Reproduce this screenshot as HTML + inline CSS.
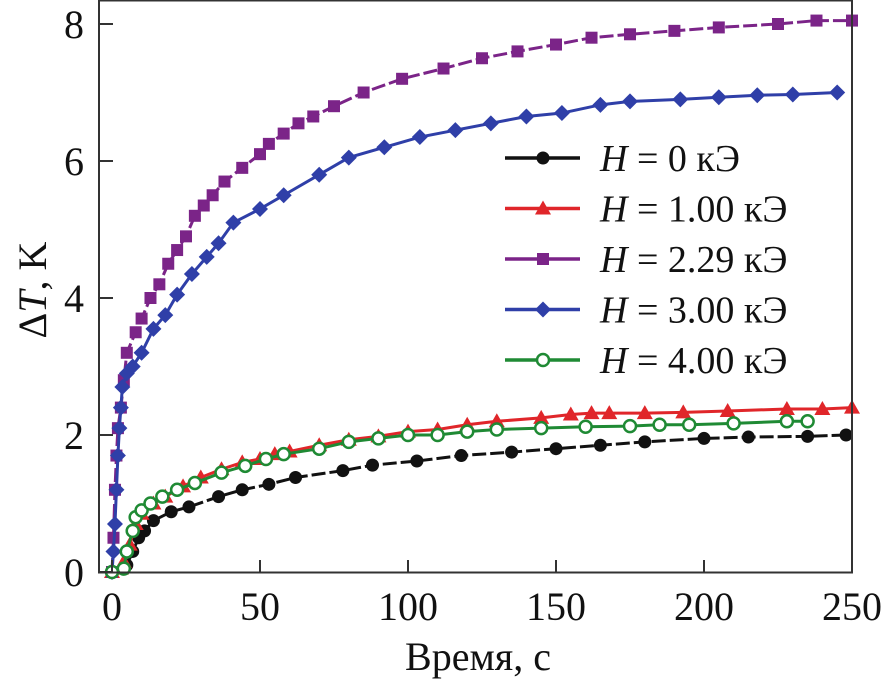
<!DOCTYPE html>
<html><head><meta charset="utf-8"><style>
body{margin:0;background:#fff;width:882px;height:682px;overflow:hidden}
svg text{font-family:"Liberation Serif","DejaVu Serif",serif;fill:#111}
</style></head><body>
<svg id="chart" width="882" height="682" viewBox="0 0 882 682" xmlns="http://www.w3.org/2000/svg" font-family="Liberation Serif, serif">
<g id="plot"></g>
<g id="axes"></g>
<g id="legend"></g>
<text x="478" y="670" font-size="40" text-anchor="middle">Время, с</text>
<text transform="translate(46,290) rotate(-90)" font-size="40" text-anchor="middle">Δ<tspan font-style="italic">T</tspan>, K</text>
</svg>
<script>
const xTicks=[0,50,100,150,200,250];
const yTicks=[0,2,4,6,8];
const t0=[0,5,7,9,11,14,20,26,36,44,53,62,78,88,103,118,135,150,165,180,200,215,235,248];
const v0=[0,0.1,0.3,0.5,0.6,0.75,0.88,0.95,1.1,1.2,1.28,1.38,1.48,1.56,1.62,1.7,1.75,1.8,1.85,1.9,1.95,1.97,1.98,2.0];
const t1=[0,3,4,6,8,10,14,18,24,30,37,44,50,55,60,70,80,90,100,110,120,130,145,155,162,168,180,193,208,228,240,250];
const v1=[0,0.05,0.15,0.4,0.7,0.85,1.0,1.1,1.25,1.38,1.5,1.6,1.65,1.72,1.76,1.85,1.93,1.98,2.05,2.08,2.15,2.2,2.25,2.3,2.32,2.32,2.32,2.33,2.35,2.38,2.38,2.4];
const t2=[0,0.5,1,1.5,2,3,4,5,8,10,13,16,19,22,25,28,31,34,38,44,50,53,58,63,68,75,85,98,112,125,137,150,162,175,190,205,225,238,250];
const v2=[0,0.5,1.2,1.7,2.1,2.4,2.8,3.2,3.5,3.7,4.0,4.2,4.5,4.7,4.9,5.2,5.35,5.5,5.7,5.9,6.1,6.25,6.4,6.55,6.65,6.8,7.0,7.2,7.35,7.5,7.6,7.7,7.8,7.85,7.9,7.95,8.0,8.05,8.05];
const t3=[0,0.5,1,1.5,2,2.5,3,3.5,5,7,10,14,18,22,27,32,36,41,50,58,70,80,92,104,116,128,140,152,165,175,192,205,218,230,245];
const v3=[0,0.3,0.7,1.2,1.7,2.1,2.4,2.7,2.9,3.0,3.2,3.55,3.75,4.05,4.35,4.6,4.8,5.1,5.3,5.5,5.8,6.05,6.2,6.35,6.45,6.55,6.65,6.7,6.82,6.87,6.9,6.93,6.96,6.97,7.0];
const t4=[0,4,5,7,8,10,13,17,22,28,37,45,52,58,70,80,90,100,110,120,130,145,160,175,185,195,210,228,235];
const v4=[0,0.05,0.3,0.6,0.8,0.9,1.0,1.1,1.2,1.3,1.45,1.55,1.65,1.72,1.8,1.9,1.95,2.0,2.0,2.05,2.08,2.1,2.12,2.13,2.15,2.15,2.17,2.2,2.2];
const labels=["0","1.00","2.29","3.00","4.00"];
const NS="http://www.w3.org/2000/svg";
const X=t=>112+t*2.96, Y=v=>572-v*68.5;
function mk(tag,at,parent){const e=document.createElementNS(NS,tag);for(const k in at)e.setAttribute(k,at[k]);parent.appendChild(e);return e;}
const plot=document.getElementById('plot'),axes=document.getElementById('axes'),leg=document.getElementById('legend');
const series=[{t:t0,v:v0,c:"#111",m:"circle",n:"h0"},{t:t1,v:v1,c:"#e0262a",m:"tri",n:"h1"},{t:t2,v:v2,c:"#7b2488",m:"sq",n:"h229"},{t:t3,v:v3,c:"#2f3fa8",m:"dia",n:"h3"},{t:t4,v:v4,c:"#1f8a34",m:"open",n:"h4"}];
function marker(m,x,y,c,g){let e;
 if(m=="circle"){e=mk('circle',{cx:x,cy:y,r:6.5,fill:c},g);}
 else if(m=="open"){e=mk('circle',{cx:x,cy:y,r:6,fill:"#fff",stroke:c,"stroke-width":2.5},g);}
 else if(m=="tri"){e=mk('polygon',{points:`${x},${y-8} ${x-8},${y+6} ${x+8},${y+6}`,fill:c},g);}
 else if(m=="sq"){e=mk('rect',{x:x-6,y:y-6,width:12,height:12,fill:c},g);}
 else {e=mk('polygon',{points:`${x},${y-8} ${x+8},${y} ${x},${y+8} ${x-8},${y}`,fill:c},g);}
 return e;}
series.forEach(s=>{
 const g=mk('g',{},plot);
 
 
 const p=mk('polyline',{points:s.t.map((t,i)=>X(t)+","+Y(s.v[i])).join(" "),fill:"none",stroke:s.c,"stroke-width":3,"stroke-dasharray":s.m=="circle"||s.m=="sq"?"14 4":"none"},g);
 
 
 s.t.forEach((t,i)=>{const e=marker(s.m,X(t),Y(s.v[i]),s.c,g);
  
  });
});
const fr=mk('rect',{x:99,y:0.5,width:753,height:572,fill:"none",stroke:"#333","stroke-width":2},axes);


xTicks.forEach(t=>{const l=mk('line',{x1:X(t),x2:X(t),y1:572,y2:560,stroke:"#333","stroke-width":2},axes);
 
 
 const tx=mk('text',{x:X(t),y:620,"font-size":40,"text-anchor":"middle"},axes);tx.textContent=t;
 
 });
yTicks.forEach(v=>{const l=mk('line',{x1:99,x2:113,y1:Y(v),y2:Y(v),stroke:"#333","stroke-width":2},axes);
 
 
 const tx=mk('text',{x:84,y:Y(v)+14,"font-size":40,"text-anchor":"end"},axes);tx.textContent=v;
 
 });
series.forEach((s,i)=>{const y=158+i*50.5;const g=mk('g',{},leg);
 
 
 mk('line',{x1:505,x2:580,y1:y,y2:y,stroke:s.c,"stroke-width":3.5},g);
 marker(s.m,543,y,s.c,g);
 const tx=mk('text',{x:600,y:y+13,"font-size":38},g);
 tx.innerHTML='<tspan font-style="italic">H</tspan> = '+labels[i]+' кЭ';});
</script>
</body></html>
